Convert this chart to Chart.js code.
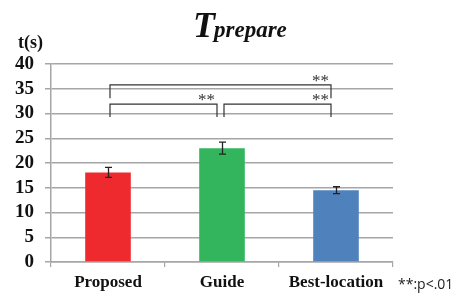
<!DOCTYPE html>
<html><head><meta charset="utf-8">
<script src="https://cdn.jsdelivr.net/npm/chart.js@4"></script>
<style>html,body{margin:0;padding:0;background:#fff}#w{width:464px;height:299px}</style>
</head><body><div id="w"><canvas id="c"></canvas></div>
<script>
const categories = ["Proposed", "Guide", "Best-location"];
const meanValues = [18.1, 23.0, 14.5];
const errorValues = [1.0, 1.2, 0.7];
const barColors = ["#ee2a2f", "#33b55e", "#4f81bd"];
const yTicks = [0, 5, 10, 15, 20, 25, 30, 35, 40];
const bracketFrom = [0, 0, 1];
const bracketTo = [2, 1, 2];
const bracketTop = [35.8, 31.9, 31.9];
const bracketFoot = [33.1, 29.3, 29.3];
const bracketLabel = ["**", "**", "**"];

const SERIF = '"Liberation Serif", "DejaVu Serif", serif';

const extras = {
  id: 'extras',
  afterDatasetsDraw(chart) {
    const ctx = chart.ctx, x = chart.scales.x, y = chart.scales.y;
    ctx.save();
    ctx.strokeStyle = '#222'; ctx.lineWidth = 1.3;
    meanValues.forEach((v, i) => {
      const cx = x.getPixelForValue(i) + 0.5;
      const t = y.getPixelForValue(v + errorValues[i]);
      const b = y.getPixelForValue(v - errorValues[i]);
      ctx.beginPath();
      ctx.moveTo(cx, t); ctx.lineTo(cx, b);
      ctx.moveTo(cx - 3.5, t); ctx.lineTo(cx + 3.5, t);
      ctx.moveTo(cx - 3.5, b); ctx.lineTo(cx + 3.5, b);
      ctx.stroke();
    });
    ctx.strokeStyle = '#333'; ctx.lineWidth = 1.2;
    ctx.fillStyle = '#333';
    ctx.font = '17px ' + SERIF;
    ctx.textAlign = 'right'; ctx.textBaseline = 'alphabetic';
    bracketFrom.forEach((f, i) => {
      const x1 = x.getPixelForValue(f) + 2;
      const x2 = x.getPixelForValue(bracketTo[i]) - 5;
      const yt = y.getPixelForValue(bracketTop[i]);
      const yb = y.getPixelForValue(bracketFoot[i]);
      ctx.beginPath();
      ctx.moveTo(x1, yb); ctx.lineTo(x1, yt); ctx.lineTo(x2, yt); ctx.lineTo(x2, yb);
      ctx.stroke();
      ctx.fillText(bracketLabel[i], x2 - 2, yt + 1);
    });
    ctx.restore();
  },
  afterDraw(chart) {
    const ctx = chart.ctx;
    ctx.save();
    ctx.fillStyle = '#111';
    ctx.textBaseline = 'alphabetic';
    ctx.textAlign = 'left';
    ctx.font = 'bold italic 36px ' + SERIF;
    ctx.fillText('T', 193, 37);
    const tw = ctx.measureText('T').width;
    ctx.font = 'bold italic 23px ' + SERIF;
    ctx.fillText('prepare', 193 + tw - 1, 37);
    ctx.font = 'bold 18px ' + SERIF;
    ctx.fillText('t(s)', 18, 48);
    ctx.font = '14px "Open Sans", sans-serif';
    ctx.fillStyle = '#222';
    ctx.fillText('**:p<.01', 398, 289);
    ctx.restore();
  }
};

new Chart(document.getElementById('c'), {
  type: 'bar',
  data: {
    labels: categories,
    datasets: [{
      data: meanValues,
      backgroundColor: barColors,
      borderWidth: 0,
      barPercentage: 0.40,
      categoryPercentage: 1.0
    }]
  },
  options: {
    responsive: true,
    maintainAspectRatio: false,
    animation: false,
    layout: { padding: { left: 0, right: 71, top: 64, bottom: 0 } },
    plugins: { legend: { display: false }, tooltip: { enabled: false }, title: { display: false } },
    scales: {
      x: {
        offset: true,
        grid: { offset: true, drawOnChartArea: false, drawTicks: true, tickLength: 5, color: '#a6a6a6', lineWidth: 1.2 },
        border: { display: true, color: '#a6a6a6', width: 1.5 },
        ticks: { color: '#111', font: { family: SERIF, size: 17, weight: 'bold' }, padding: 5 },
        afterFit(s) { s.height = 37; }
      },
      y: {
        min: 0, max: 40,
        afterBuildTicks(s) { s.ticks = yTicks.map(v => ({ value: v })); },
        grid: { color: '#a6a6a6', lineWidth: 1.5, tickLength: 6 },
        border: { display: true, color: '#a6a6a6', width: 1.5 },
        ticks: { color: '#111', font: { family: SERIF, size: 19, weight: 'bold' }, padding: 11, autoSkip: false },
        afterFit(s) { s.width = 51; }
      }
    }
  },
  plugins: [extras]
});
</script>
</body></html>
